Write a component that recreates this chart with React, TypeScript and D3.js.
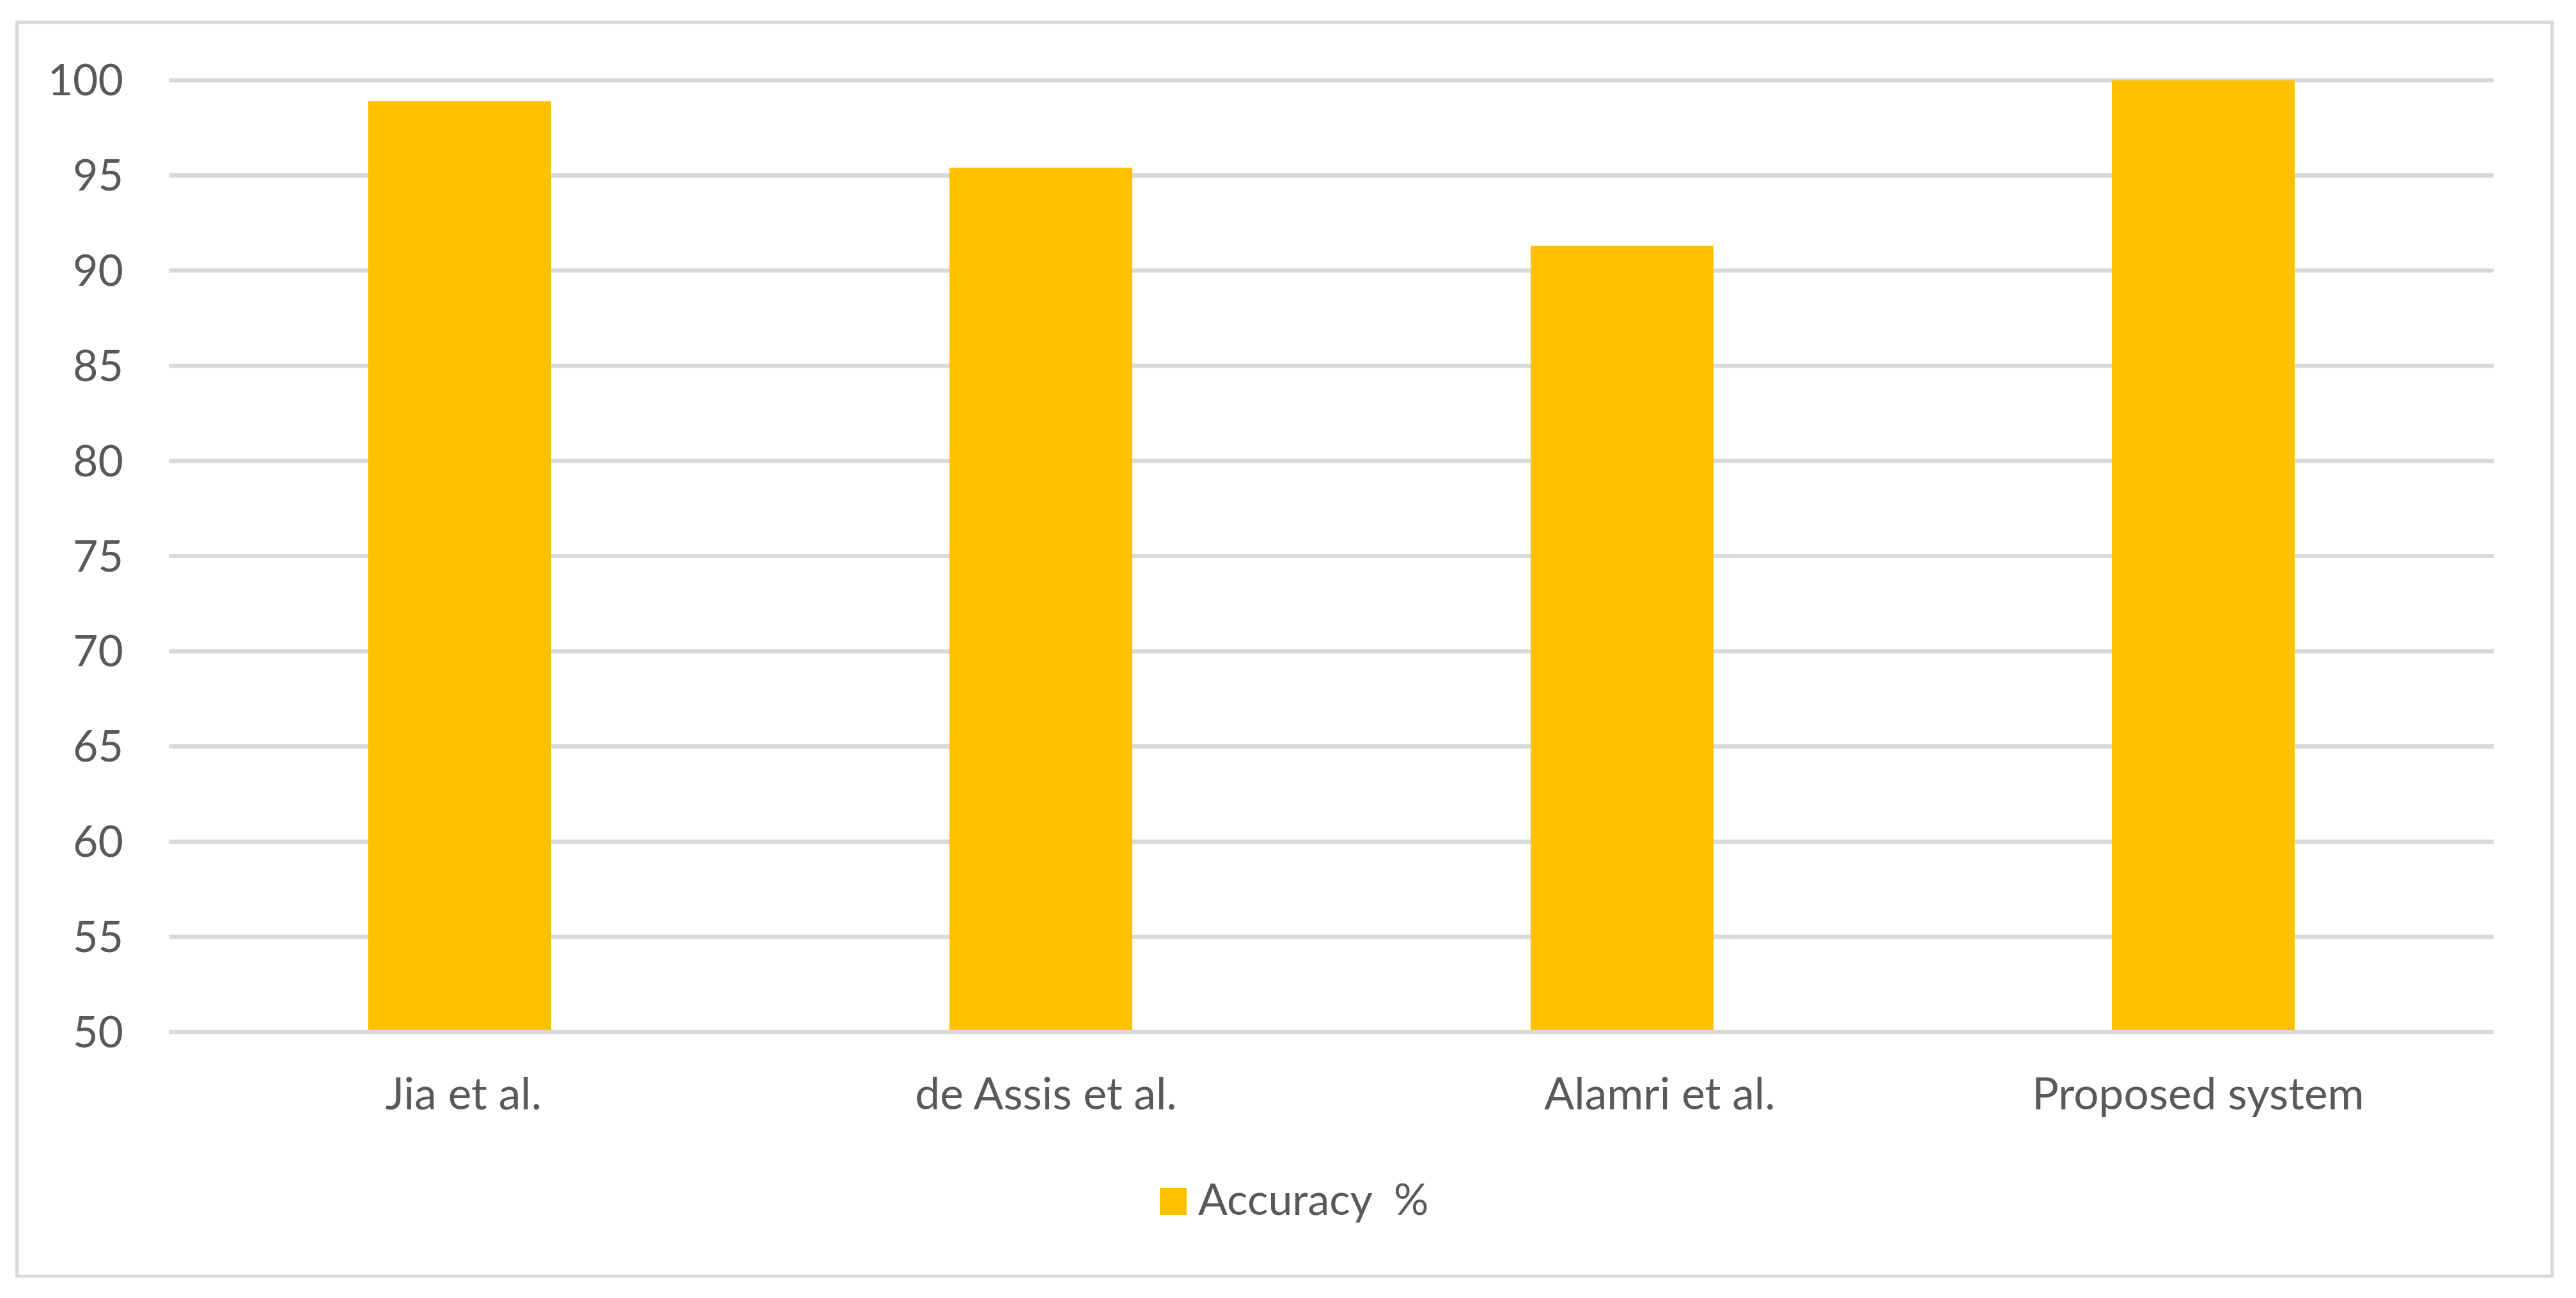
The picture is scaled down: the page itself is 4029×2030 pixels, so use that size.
import React from "react";
import * as d3 from "d3";

const categories = ["Jia et al.", "de Assis et al.", "Alamri et al.", "Proposed system"];
const accuracy = [98.9, 95.4, 91.3, 100];
const yTicks = [50, 55, 60, 65, 70, 75, 80, 85, 90, 95, 100];
const seriesName = "Accuracy  %";

const W = 4029;
const H = 2030;
const FONT = "Lato, 'Liberation Sans', sans-serif";
const TEXT = "#595959";
const GRID = "#d9d9d9";
const BAR = "#ffc000";
// horizontal nudges of category labels, as seen in the reference layout
const LABEL_NUDGE = [6, 8, 59, -8];

export default function App() {
  const plotLeft = 264.5;
  const plotRight = 3900.5;
  const y = d3.scaleLinear().domain([50, 100]).range([1614, 125.5]);
  const x = d3
    .scaleBand<string>()
    .domain(categories)
    .range([plotLeft, plotRight])
    .paddingInner(0.6854)
    .paddingOuter(0.3427);

  return (
    <svg
      width={W}
      height={H}
      style={{ position: "absolute", left: 0, top: 0, display: "block", background: "#fff" }}
      fontFamily={FONT}
    >
      <rect x={0} y={0} width={W} height={H} fill="#fff" />
      <rect x={26.5} y={35} width={3965} height={1961} fill="none" stroke={GRID} strokeWidth={5} />
      {yTicks.map((t) => (
        <g key={t}>
          <line x1={plotLeft} x2={plotRight} y1={y(t)} y2={y(t)} stroke={GRID} strokeWidth={6.7} />
          <text
            x={193}
            y={y(t)}
            dy="0.35em"
            textAnchor="end"
            fontSize={68}
            fill={TEXT}
          >
            {t}
          </text>
        </g>
      ))}
      {categories.map((c, i) => (
        <rect
          key={c}
          x={x(c)}
          y={y(accuracy[i])}
          width={x.bandwidth()}
          height={y(50) - y(accuracy[i]) - 3}
          fill={BAR}
        />
      ))}
      {categories.map((c, i) => (
        <text
          key={c}
          x={(x(c) as number) + x.bandwidth() / 2 + LABEL_NUDGE[i]}
          y={1735}
          textAnchor="middle"
          fontSize={69.5}
          fill={TEXT}
        >
          {c}
        </text>
      ))}
      <rect x={1814} y={1858} width={42} height={42} fill={BAR} />
      <text x={1874} y={1900} fontSize={68} fill={TEXT} style={{ whiteSpace: "pre" }}>
        {seriesName}
      </text>
    </svg>
  );
}
